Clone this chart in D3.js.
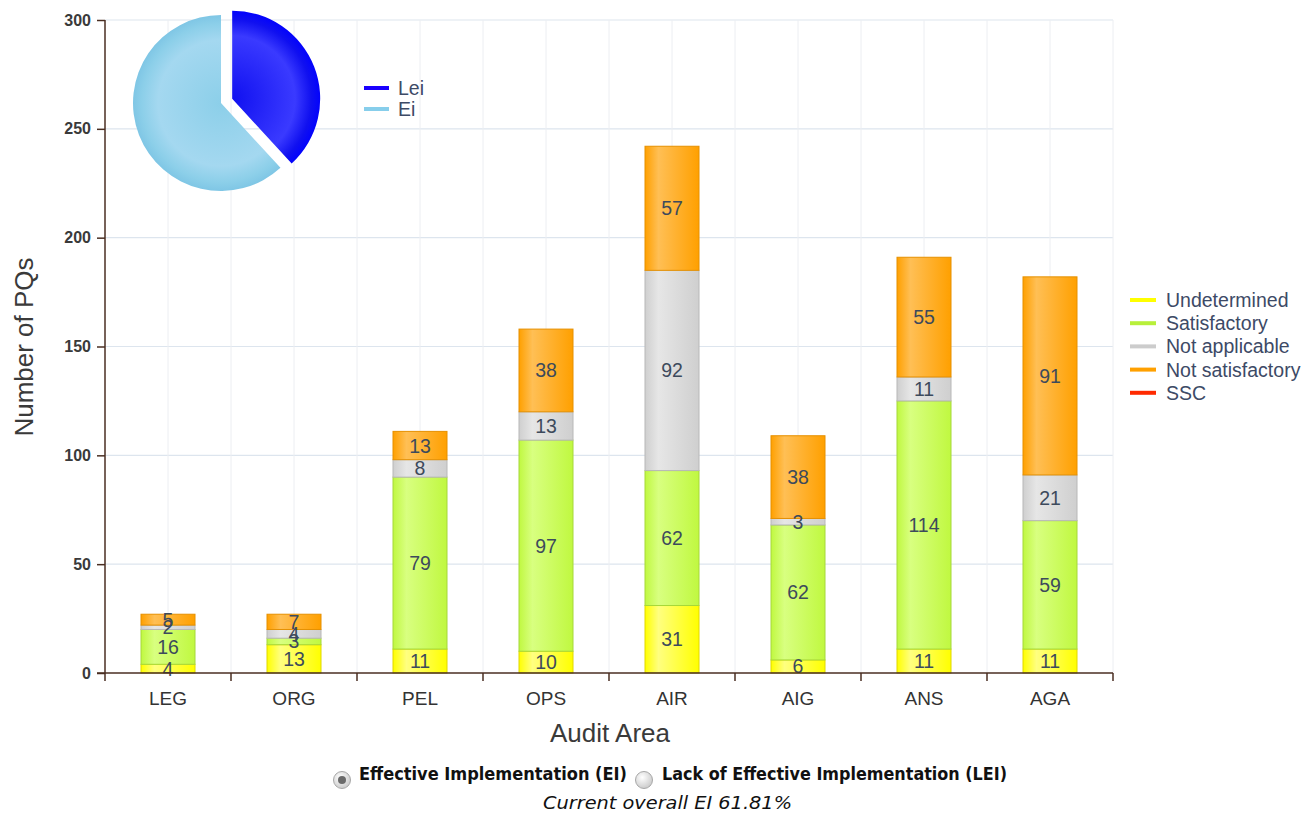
<!DOCTYPE html>
<html><head><meta charset="utf-8">
<script src="https://cdn.jsdelivr.net/npm/d3@7/dist/d3.min.js"></script>
<style>
html,body{margin:0;padding:0;background:#fff;}
svg{display:block;font-family:"Liberation Sans",Arial,sans-serif;}
</style></head><body>
<svg id="c" width="1309" height="813"></svg>
<script>
const categories = ["LEG","ORG","PEL","OPS","AIR","AIG","ANS","AGA"];
const undetermined = [4,13,11,10,31,6,11,11];
const satisfactory = [16,3,79,97,62,62,114,59];
const notApplicable = [2,4,8,13,92,3,11,21];
const notSatisfactory = [5,7,13,38,57,38,55,91];
const ssc = [0,0,0,0,0,0,0,0];
const seriesNames = ["Undetermined","Satisfactory","Not applicable","Not satisfactory","SSC"];
const yTicks = [0,50,100,150,200,250,300];
const pieLabels = ["Lei","Ei"];
const pieValues = [38.19,61.81];

const svg = d3.select("#c");
const defs = svg.append("defs");
const M = {l:105, r:1113, t:20, b:673};
const x = d3.scaleBand().domain(categories).range([M.l,M.r]);
const y = d3.scaleLinear().domain([0,300]).range([M.b,M.t]);

const seriesData = [undetermined,satisfactory,notApplicable,notSatisfactory,ssc];
const fills = [["#ffff80","#ffff00"],["#d8ff80","#c0f840"],["#e6e6e6","#cfcfcf"],["#ffbf55","#ffa000"],["#ff6040","#ff2a00"]];
const strokes = ["#e0d800","#a6d83a","#b8b8b8","#e69000","#d02000"];
const legendColors = ["#ffff00","#b8f03a","#cccccc","#ffa000","#ff2a00"];
fills.forEach((f,i)=>{
  const g = defs.append("linearGradient").attr("id","g"+i).attr("x1","0").attr("x2","1").attr("y1","0").attr("y2","0");
  g.append("stop").attr("offset","0%").attr("stop-color",f[1]);
  g.append("stop").attr("offset","25%").attr("stop-color",f[0]);
  g.append("stop").attr("offset","100%").attr("stop-color",f[1]);
});

// gridlines
const gridG = svg.append("g");
yTicks.forEach(t=>{
  if(t===0) return;
  gridG.append("line").attr("x1",M.l).attr("x2",M.r).attr("y1",y(t)).attr("y2",y(t)).attr("stroke","#dde5ee").attr("stroke-width",1.2);
});
categories.forEach((c,i)=>{
  const cx = x(c)+x.bandwidth()/2;
  gridG.append("line").attr("x1",cx).attr("x2",cx).attr("y1",M.t).attr("y2",M.b).attr("stroke","#eceef2");
  if(i>0) gridG.append("line").attr("x1",x(c)).attr("x2",x(c)).attr("y1",M.t).attr("y2",M.b).attr("stroke","#eceef2");
});
gridG.append("line").attr("x1",M.r).attr("x2",M.r).attr("y1",M.t).attr("y2",M.b).attr("stroke","#eceef2");

// stacked bars
const table = categories.map((c,i)=>{const o={cat:c}; seriesNames.forEach((s,k)=>o[s]=seriesData[k][i]); return o;});
const stack = d3.stack().keys(seriesNames)(table);
const bw = 54;
stack.forEach((layer,k)=>{
  const g = svg.append("g");
  layer.forEach(d=>{
    const v = d[1]-d[0];
    if(v<=0) return;
    const cx = x(d.data.cat)+x.bandwidth()/2;
    g.append("rect").attr("x",cx-bw/2).attr("width",bw).attr("y",y(d[1])).attr("height",y(d[0])-y(d[1]))
      .attr("fill",`url(#g${k})`).attr("stroke",strokes[k]).attr("stroke-width",1);
  });
});
stack.forEach((layer,k)=>{
  layer.forEach(d=>{
    const v = d[1]-d[0];
    if(v<=0) return;
    const cx = x(d.data.cat)+x.bandwidth()/2;
    svg.append("text").attr("x",cx).attr("y",(y(d[0])+y(d[1]))/2+7).attr("text-anchor","middle")
      .attr("font-size",19.5).attr("fill","#3d4a5c").text(v);
  });
});

// axes
const axisColor = "#4a2e22";
const yAxis = svg.append("g").attr("transform",`translate(${M.l},0)`).call(d3.axisLeft(y).tickValues(yTicks).tickSize(8).tickPadding(6));
yAxis.selectAll("path,line").attr("stroke",axisColor).attr("stroke-width",1.5);
yAxis.select("path").attr("d",`M0,${M.t}V${M.b}`);
yAxis.selectAll("text").attr("font-size",16).attr("font-family","Liberation Sans, Arial").attr("font-weight","bold").attr("fill","#3a3a3a");
const xAxis = svg.append("g").attr("transform",`translate(0,${M.b})`).call(d3.axisBottom(x).tickSize(0).tickPadding(19));
xAxis.select("path").attr("stroke",axisColor).attr("stroke-width",1.5).attr("d",`M${M.l-8},0H${M.r}`);
xAxis.selectAll("text").attr("font-size",19).attr("fill","#333").attr("font-family","Liberation Sans, Arial");
// boundary ticks
const bounds = categories.map(c=>x(c)).concat([M.r]);
bounds.forEach(b=>svg.append("line").attr("x1",b).attr("x2",b).attr("y1",M.b).attr("y2",M.b+8).attr("stroke",axisColor).attr("stroke-width",1.5));

svg.append("text").attr("transform",`translate(33,347) rotate(-90)`).attr("text-anchor","middle").attr("font-size",26).attr("fill","#3a3a3a").text("Number of PQs");
svg.append("text").attr("x",610).attr("y",742).attr("text-anchor","middle").attr("font-size",26).attr("fill","#3a3a3a").text("Audit Area");

// right legend
const lg = svg.append("g");
seriesNames.forEach((s,i)=>{
  const yy = 300+i*23.2;
  lg.append("line").attr("x1",1130).attr("x2",1156).attr("y1",yy).attr("y2",yy).attr("stroke",legendColors[i]).attr("stroke-width",4);
  lg.append("text").attr("x",1166).attr("y",yy+7).attr("font-size",19.5).attr("fill","#3d4a66").text(s);
});

// pie
const pieColors = [["#3a3aff","#1010f0","#0000ff"],["#a4d8f0","#8ccfe9","#7cc4e4"]];
pieColors.forEach((c,i)=>{
  const g = defs.append("radialGradient").attr("id","pg"+i).attr("gradientUnits","userSpaceOnUse").attr("cx",0).attr("cy",0).attr("r",90);
  g.append("stop").attr("offset","0%").attr("stop-color",c[1]);
  g.append("stop").attr("offset","70%").attr("stop-color",c[0]);
  g.append("stop").attr("offset","88%").attr("stop-color",c[1]);
  g.append("stop").attr("offset","100%").attr("stop-color",c[2]);
});
const pie = d3.pie().sort(null).value(d=>d)(pieValues);
const arc = d3.arc().innerRadius(0).outerRadius(88);
const pc = {x:221,y:103};
pie.forEach((p,i)=>{
  let dx=0, dy=0;
  if(i===0){const m=(p.startAngle+p.endAngle)/2; dx=Math.sin(m)*12; dy=-Math.cos(m)*12;}
  svg.append("path").attr("transform",`translate(${pc.x+dx},${pc.y+dy})`).attr("d",arc(p)).attr("fill",`url(#pg${i})`);
});
const plColors = ["#1a00ff","#87ceeb"];
pieLabels.forEach((l,i)=>{
  const yy = 88+i*21;
  svg.append("line").attr("x1",364).attr("x2",389).attr("y1",yy).attr("y2",yy).attr("stroke",plColors[i]).attr("stroke-width",4);
  svg.append("text").attr("x",398).attr("y",yy+7).attr("font-size",19.5).attr("fill","#3d4a66").text(l);
});

// radio controls
function radio(cx,cy,checked){
  const g = defs.append("radialGradient").attr("id","rg"+cx).attr("cx","40%").attr("cy","35%").attr("r","70%");
  g.append("stop").attr("offset","0%").attr("stop-color","#ffffff");
  g.append("stop").attr("offset","100%").attr("stop-color","#c8c8c8");
  svg.append("circle").attr("cx",cx).attr("cy",cy).attr("r",8.5).attr("fill",`url(#rg${cx})`).attr("stroke","#a8a8a8");
  if(checked) svg.append("circle").attr("cx",cx).attr("cy",cy).attr("r",4).attr("fill","#6a6a6a");
}
radio(342,780,true);
radio(644,780,false);
const cf = "'DejaVu Sans Condensed','DejaVu Sans',sans-serif";
svg.append("text").attr("x",359).attr("y",780).attr("font-family",cf).attr("font-stretch","condensed").attr("font-weight","bold").attr("font-size",17).attr("textLength",268).attr("lengthAdjust","spacingAndGlyphs").attr("fill","#111").text("Effective Implementation (EI)");
svg.append("text").attr("x",662).attr("y",780).attr("font-family",cf).attr("font-stretch","condensed").attr("font-weight","bold").attr("font-size",17).attr("textLength",345).attr("lengthAdjust","spacingAndGlyphs").attr("fill","#111").text("Lack of Effective Implementation (LEI)");
svg.append("text").attr("x",543).attr("y",809).attr("font-family",cf).attr("font-stretch","condensed").attr("font-style","italic").attr("font-size",17).attr("textLength",249).attr("lengthAdjust","spacingAndGlyphs").attr("fill","#111").text("Current overall EI 61.81%");
</script>
</body></html>
